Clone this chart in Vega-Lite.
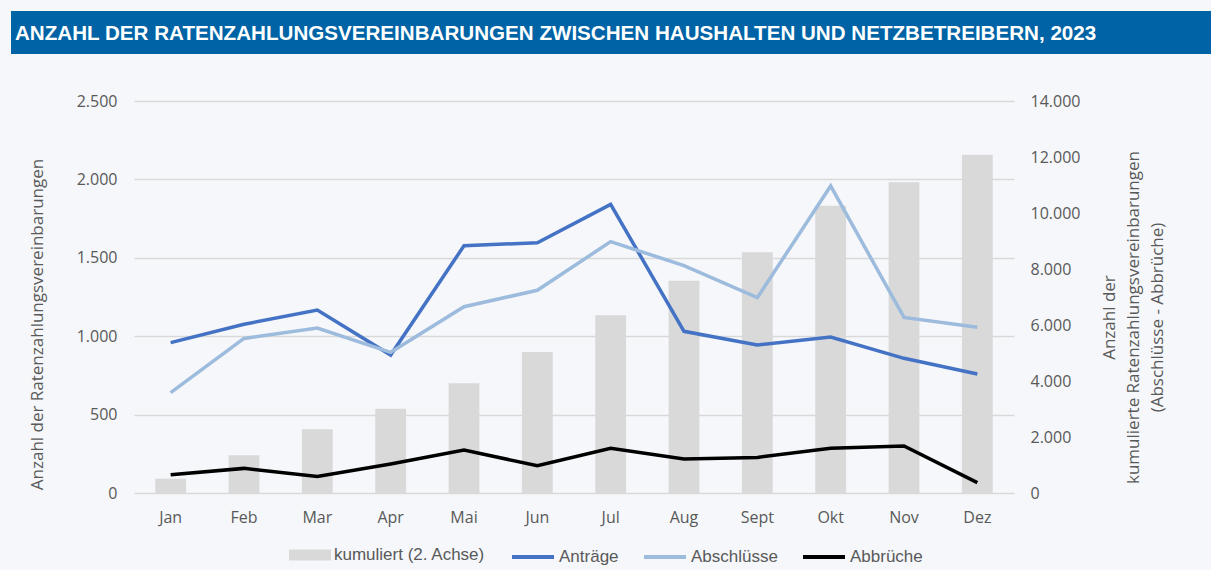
{
  "$schema": "https://vega.github.io/schema/vega-lite/v6.json",
  "background": "#F5F7FA",
  "padding": {"left": 11, "top": 11, "right": 0, "bottom": 5},
  "config": {
    "locale": {"number": {"decimal": ",", "thousands": ".", "grouping": [3], "currency": ["", " €"]}},
    "view": {"stroke": null},
    "font": "Liberation Sans",
    "axis": {"labelColor": "#595959", "titleColor": "#595959", "labelFont": "Open Sans", "titleFont": "Open Sans", "labelFontSize": 16, "titleFontSize": 17, "titleFontWeight": "normal", "ticks": false, "tickSize": 0, "domain": false},
    "legend": {"labelColor": "#595959", "labelFont": "Liberation Sans", "labelFontSize": 17, "padding": 0}
  },
  "datasets": {
    "bars": [
      {"m": "Jan", "s": "kumuliert (2. Achse)", "v": 510},
      {"m": "Feb", "s": "kumuliert (2. Achse)", "v": 1346},
      {"m": "Mar", "s": "kumuliert (2. Achse)", "v": 2274},
      {"m": "Apr", "s": "kumuliert (2. Achse)", "v": 3012},
      {"m": "Mai", "s": "kumuliert (2. Achse)", "v": 3917},
      {"m": "Jun", "s": "kumuliert (2. Achse)", "v": 5036},
      {"m": "Jul", "s": "kumuliert (2. Achse)", "v": 6345},
      {"m": "Aug", "s": "kumuliert (2. Achse)", "v": 7583},
      {"m": "Sept", "s": "kumuliert (2. Achse)", "v": 8595},
      {"m": "Okt", "s": "kumuliert (2. Achse)", "v": 10262},
      {"m": "Nov", "s": "kumuliert (2. Achse)", "v": 11095},
      {"m": "Dez", "s": "kumuliert (2. Achse)", "v": 12083}
    ],
    "lines": [
      {"m": "Jan", "s": "Anträge", "v": 959},
      {"m": "Feb", "s": "Anträge", "v": 1076},
      {"m": "Mar", "s": "Anträge", "v": 1167},
      {"m": "Apr", "s": "Anträge", "v": 880},
      {"m": "Mai", "s": "Anträge", "v": 1577},
      {"m": "Jun", "s": "Anträge", "v": 1596},
      {"m": "Jul", "s": "Anträge", "v": 1841},
      {"m": "Aug", "s": "Anträge", "v": 1031},
      {"m": "Sept", "s": "Anträge", "v": 944},
      {"m": "Okt", "s": "Anträge", "v": 995},
      {"m": "Nov", "s": "Anträge", "v": 859},
      {"m": "Dez", "s": "Anträge", "v": 759},
      {"m": "Jan", "s": "Abschlüsse", "v": 640},
      {"m": "Feb", "s": "Abschlüsse", "v": 986},
      {"m": "Mar", "s": "Abschlüsse", "v": 1052},
      {"m": "Apr", "s": "Abschlüsse", "v": 897},
      {"m": "Mai", "s": "Abschlüsse", "v": 1188},
      {"m": "Jun", "s": "Abschlüsse", "v": 1293},
      {"m": "Jul", "s": "Abschlüsse", "v": 1603},
      {"m": "Aug", "s": "Abschlüsse", "v": 1450},
      {"m": "Sept", "s": "Abschlüsse", "v": 1246},
      {"m": "Okt", "s": "Abschlüsse", "v": 1958},
      {"m": "Nov", "s": "Abschlüsse", "v": 1120},
      {"m": "Dez", "s": "Abschlüsse", "v": 1057},
      {"m": "Jan", "s": "Abbrüche", "v": 117},
      {"m": "Feb", "s": "Abbrüche", "v": 157},
      {"m": "Mar", "s": "Abbrüche", "v": 106},
      {"m": "Apr", "s": "Abbrüche", "v": 185},
      {"m": "Mai", "s": "Abbrüche", "v": 274},
      {"m": "Jun", "s": "Abbrüche", "v": 174},
      {"m": "Jul", "s": "Abbrüche", "v": 285},
      {"m": "Aug", "s": "Abbrüche", "v": 217},
      {"m": "Sept", "s": "Abbrüche", "v": 227},
      {"m": "Okt", "s": "Abbrüche", "v": 285},
      {"m": "Nov", "s": "Abbrüche", "v": 300},
      {"m": "Dez", "s": "Abbrüche", "v": 66}
    ]
  },
  "concat": [
    {
      "width": 1200,
      "height": 43,
      "view": {"fill": "#0063A6", "stroke": null},
      "data": {"values": [{"t": "ANZAHL DER RATENZAHLUNGSVEREINBARUNGEN ZWISCHEN HAUSHALTEN UND NETZBETREIBERN, 2023"}]},
      "mark": {"type": "text", "align": "left", "baseline": "middle", "color": "#FFFFFF", "font": "Liberation Sans", "fontSize": 20.6, "fontWeight": "bold", "dx": 4, "dy": 1},
      "encoding": {
        "x": {"datum": 0, "type": "quantitative", "scale": {"domain": [0, 1]}, "axis": null},
        "text": {"field": "t"}
      }
    },
    {
      "hconcat": [
        {
          "width": 1,
          "height": 1,
          "data": {"values": []},
          "mark": {"type": "rect"},
          "encoding": {}
        },
        {
          "width": 880,
          "height": 392,
          "layer": [
            {
              "data": {"name": "bars"},
              "mark": {"type": "bar"},
              "encoding": {
                "x": {"field": "m", "type": "nominal", "sort": ["Jan","Feb","Mar","Apr","Mai","Jun","Jul","Aug","Sept","Okt","Nov","Dez"], "scale": {"paddingInner": 0.58, "paddingOuter": 0.29}, "axis": {"title": null, "labelAngle": 0, "labelPadding": 16, "grid": false}},
                "y": {"field": "v", "type": "quantitative", "scale": {"domain": [0, 14000]}, "axis": {"orient": "right", "values": [0,2000,4000,6000,8000,10000,12000,14000], "format": ",.0f", "grid": false, "labelPadding": 16, "labelAlign": "left", "title": ["Anzahl der", "kumulierte Ratenzahlungsvereinbarungen", "(Abschlüsse - Abbrüche)"], "titleAngle": 270, "titleBaseline": "top", "titleAlign": "center", "titleLineHeight": 24, "titleX": 87, "titleY": 216}},
                "fill": {"field": "s", "type": "nominal", "scale": {"range": ["#D9D9D9"]}, "legend": {"title": null, "orient": "none", "legendX": 155, "legendY": 433, "symbolType": "M-1,-0.26H1V0.26H-1Z", "symbolSize": 1764, "symbolStrokeWidth": 0, "labelOffset": 3}}
              }
            },
            {
              "data": {"name": "lines"},
              "mark": {"type": "line", "strokeWidth": 3.5},
              "encoding": {
                "x": {"field": "m", "type": "nominal", "sort": ["Jan","Feb","Mar","Apr","Mai","Jun","Jul","Aug","Sept","Okt","Nov","Dez"], "axis": {"title": null, "labelAngle": 0, "labelPadding": 16, "grid": false}},
                "y": {"field": "v", "type": "quantitative", "scale": {"domain": [0, 2500]}, "axis": {"orient": "left", "values": [0,500,1000,1500,2000,2500], "format": ",.0f", "grid": true, "gridColor": "#D9D9D9", "gridWidth": 1.5, "labelPadding": 17, "title": ["", "Anzahl der Ratenzahlungsvereinbarungen"], "titleLineHeight": 16, "titlePadding": 30, "titleY": 223}},
                "stroke": {"field": "s", "type": "nominal", "scale": {"domain": ["Anträge", "Abschlüsse", "Abbrüche"], "range": ["#4472C4", "#9DBBDC", "#000000"]}, "legend": {"title": null, "orient": "none", "direction": "horizontal", "legendX": 376, "legendY": 433, "symbolType": "stroke", "symbolSize": 1764, "symbolStrokeWidth": 4, "columnPadding": 17, "gridAlign": "none", "labelOffset": 3}}
              }
            }
          ],
          "resolve": {"scale": {"y": "independent"}}
        }
      ],
      "spacing": 0,
      "resolve": {"legend": {"fill": "independent", "stroke": "independent"}}
    }
  ],
  "columns": 1,
  "spacing": 39,
  "resolve": {"legend": {"fill": "independent", "stroke": "independent"}}
}
